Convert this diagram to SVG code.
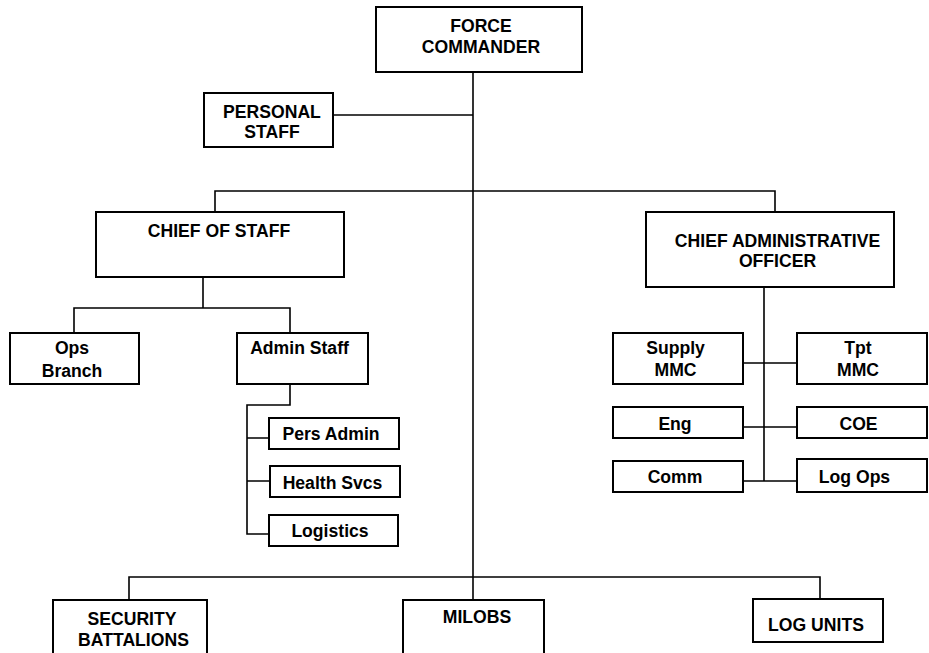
<svg xmlns="http://www.w3.org/2000/svg" width="929" height="653" viewBox="0 0 929 653">
<style>
.box{fill:#fff;stroke:#000;stroke-width:2}
.ln{fill:none;stroke:#000;stroke-width:1.6}
text{font-family:"Liberation Sans",Arial,sans-serif;font-weight:bold;font-size:17.6px;fill:#000;text-anchor:middle}
</style>
<rect width="929" height="653" fill="#fff"/>
<g id="connectors" class="ln">
<path d="M473,72 V600"/>
<path d="M333,115 H473"/>
<path d="M215,212 V191 H775 V212"/>
<path d="M203,277 V308 M74,333 V308 H290 V333"/>
<path d="M290,384 V405 H247 V534 H269 M247,438 H269 M247,481 H270"/>
<path d="M764,287 V481 M743,363 H797 M743,427 H797 M743,481 H797"/>
<path d="M129,600 V577 H820 V599"/>
</g>
<g id="force-commander"><rect class="box" x="376" y="7" width="206" height="65"/><text x="481" y="32">FORCE</text><text x="481" y="53">COMMANDER</text></g>
<g id="personal-staff"><rect class="box" x="204" y="93" width="129" height="54"/><text x="272" y="118">PERSONAL</text><text x="272" y="138">STAFF</text></g>
<g id="chief-of-staff"><rect class="box" x="96" y="212" width="248" height="65"/><text x="219" y="237">CHIEF OF STAFF</text></g>
<g id="cao"><rect class="box" x="646" y="212" width="248" height="75"/><text x="777.5" y="247">CHIEF ADMINISTRATIVE</text><text x="777.5" y="267">OFFICER</text></g>
<g id="ops-branch"><rect class="box" x="10" y="333" width="129" height="51"/><text x="72" y="354">Ops</text><text x="72" y="377">Branch</text></g>
<g id="admin-staff"><rect class="box" x="237" y="333" width="131" height="51"/><text x="299.5" y="354">Admin Staff</text></g>
<g id="pers-admin"><rect class="box" x="269" y="418" width="130" height="31"/><text x="331" y="440">Pers Admin</text></g>
<g id="health-svcs"><rect class="box" x="270" y="466" width="130" height="31"/><text x="332.5" y="489">Health Svcs</text></g>
<g id="logistics"><rect class="box" x="269" y="515" width="129" height="31"/><text x="330" y="537">Logistics</text></g>
<g id="supply-mmc"><rect class="box" x="613" y="333" width="130" height="51"/><text x="675.5" y="354">Supply</text><text x="675.5" y="376">MMC</text></g>
<g id="tpt-mmc"><rect class="box" x="797" y="333" width="130" height="51"/><text x="858" y="354">Tpt</text><text x="858" y="376">MMC</text></g>
<g id="eng"><rect class="box" x="613" y="407" width="130" height="31"/><text x="675" y="430">Eng</text></g>
<g id="coe"><rect class="box" x="797" y="407" width="130" height="31"/><text x="858.5" y="430">COE</text></g>
<g id="comm"><rect class="box" x="613" y="461" width="130" height="31"/><text x="675" y="483">Comm</text></g>
<g id="log-ops"><rect class="box" x="797" y="459" width="130" height="33"/><text x="854.5" y="483">Log Ops</text></g>
<g id="security-battalions"><rect class="box" x="53" y="600" width="154" height="60"/><text x="132" y="625">SECURITY</text><text x="133.5" y="646">BATTALIONS</text></g>
<g id="milobs"><rect class="box" x="403" y="600" width="141" height="60"/><text x="477" y="623">MILOBS</text></g>
<g id="log-units"><rect class="box" x="753" y="599" width="130" height="43"/><text x="816" y="631">LOG UNITS</text></g>
</svg>
